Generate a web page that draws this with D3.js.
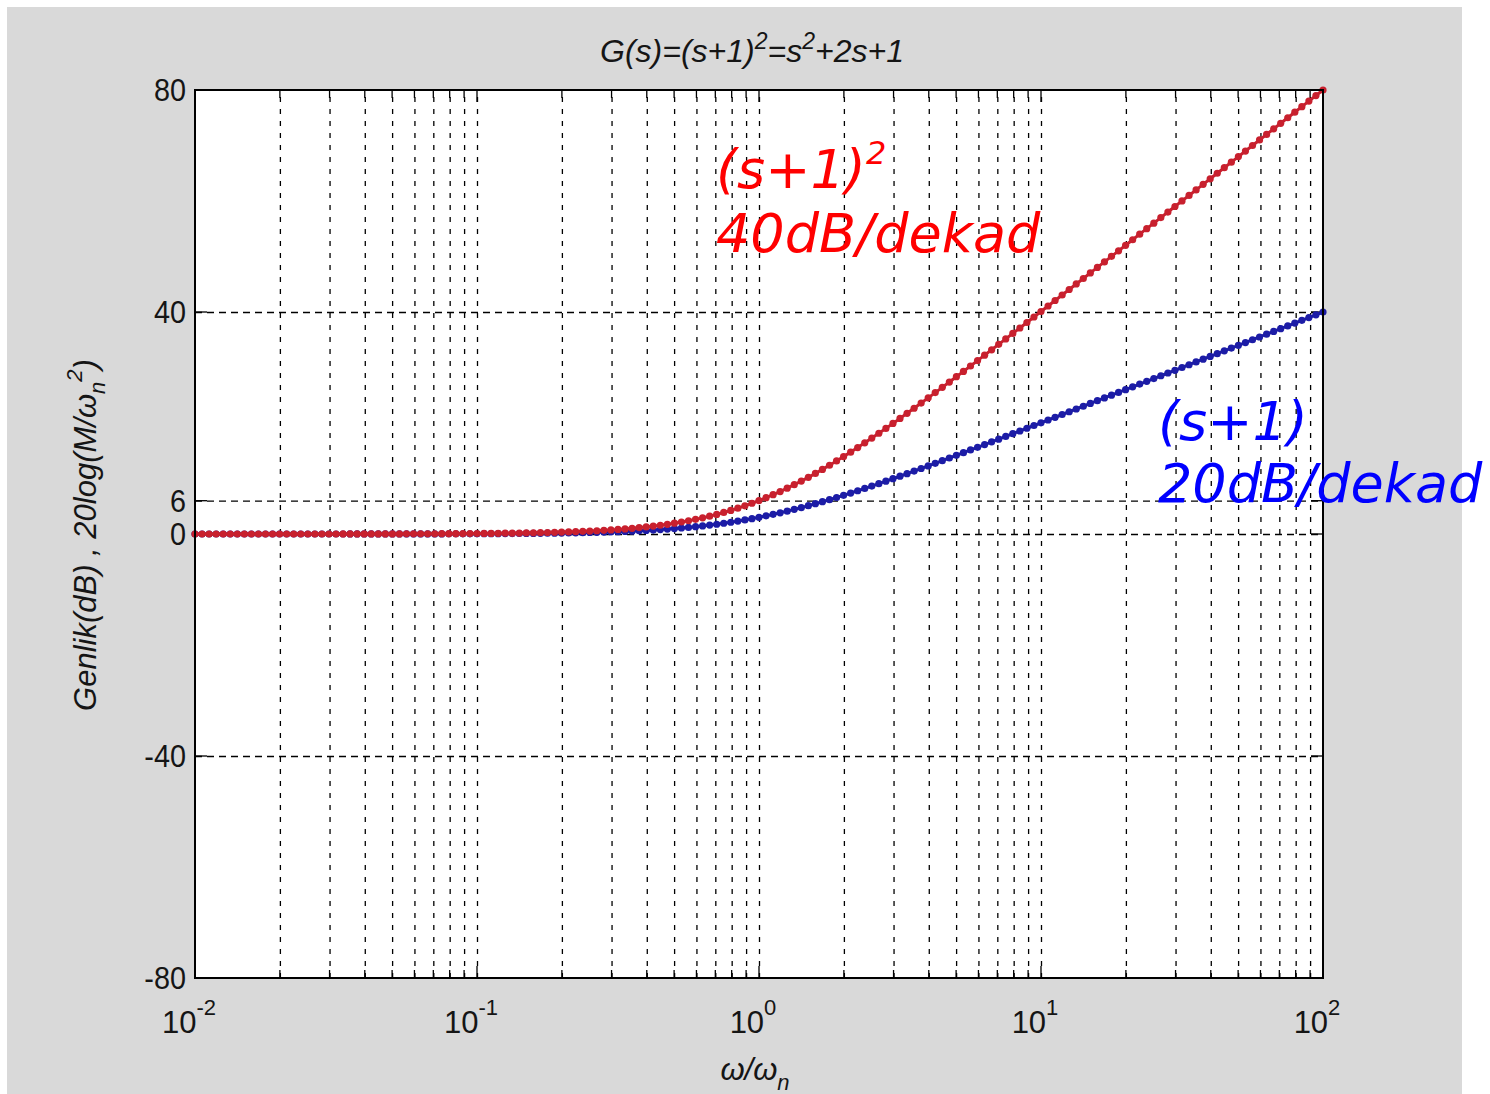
<!DOCTYPE html>
<html>
<head>
<meta charset="utf-8">
<script src="https://cdn.jsdelivr.net/npm/d3@7"></script>
<style>
  html, body { margin: 0; padding: 0; background: #ffffff; }
  svg { display: block; }
</style>
</head>
<body>
<script>
// ---------------- DATA ----------------
const xTickExps = [-2, -1, 0, 1, 2];
const yTickValues = [-80, -40, 0, 6, 40, 80];

const logOmega = [
 -2.000,-1.975,-1.950,-1.925,-1.900,-1.875,-1.850,-1.825,-1.800,-1.775,
 -1.750,-1.725,-1.700,-1.675,-1.650,-1.625,-1.600,-1.575,-1.550,-1.525,
 -1.500,-1.475,-1.450,-1.425,-1.400,-1.375,-1.350,-1.325,-1.300,-1.275,
 -1.250,-1.225,-1.200,-1.175,-1.150,-1.125,-1.100,-1.075,-1.050,-1.025,
 -1.000,-0.975,-0.950,-0.925,-0.900,-0.875,-0.850,-0.825,-0.800,-0.775,
 -0.750,-0.725,-0.700,-0.675,-0.650,-0.625,-0.600,-0.575,-0.550,-0.525,
 -0.500,-0.475,-0.450,-0.425,-0.400,-0.375,-0.350,-0.325,-0.300,-0.275,
 -0.250,-0.225,-0.200,-0.175,-0.150,-0.125,-0.100,-0.075,-0.050,-0.025,
  0.000, 0.025, 0.050, 0.075, 0.100, 0.125, 0.150, 0.175, 0.200, 0.225,
  0.250, 0.275, 0.300, 0.325, 0.350, 0.375, 0.400, 0.425, 0.450, 0.475,
  0.500, 0.525, 0.550, 0.575, 0.600, 0.625, 0.650, 0.675, 0.700, 0.725,
  0.750, 0.775, 0.800, 0.825, 0.850, 0.875, 0.900, 0.925, 0.950, 0.975,
  1.000, 1.025, 1.050, 1.075, 1.100, 1.125, 1.150, 1.175, 1.200, 1.225,
  1.250, 1.275, 1.300, 1.325, 1.350, 1.375, 1.400, 1.425, 1.450, 1.475,
  1.500, 1.525, 1.550, 1.575, 1.600, 1.625, 1.650, 1.675, 1.700, 1.725,
  1.750, 1.775, 1.800, 1.825, 1.850, 1.875, 1.900, 1.925, 1.950, 1.975,
  2.000
];

// (s+1)  -> blue
const magFirstOrder = [
 0,0,0,0,0,0,0,0,0,0,
 0,0,0,0,0,0,0,0,0,0,
 0,0,0.01,0.01,0.01,0.01,0.01,0.01,0.01,0.01,
 0.01,0.02,0.02,0.02,0.02,0.02,0.03,0.03,0.03,0.04,
 0.04,0.05,0.05,0.06,0.07,0.08,0.09,0.10,0.11,0.12,
 0.14,0.15,0.17,0.19,0.21,0.24,0.27,0.30,0.33,0.37,
 0.41,0.46,0.51,0.57,0.64,0.71,0.79,0.88,0.97,1.08,
 1.19,1.32,1.46,1.60,1.76,1.94,2.12,2.32,2.54,2.77,
 3.01,3.27,3.54,3.82,4.12,4.44,4.76,5.10,5.46,5.82,
 6.19,6.58,6.97,7.38,7.79,8.21,8.64,9.07,9.52,9.96,
 10.41,10.87,11.33,11.80,12.27,12.74,13.21,13.69,14.17,14.65,
 15.14,15.62,16.11,16.60,17.09,17.58,18.07,18.56,19.05,19.55,
 20.04,20.54,21.03,21.53,22.03,22.52,23.02,23.52,24.02,24.52,
 25.01,25.51,26.01,26.51,27.01,27.51,28.01,28.51,29.01,29.50,
 30.00,30.50,31.00,31.50,32.00,32.50,33.00,33.50,34.00,34.50,
 35.00,35.50,36.00,36.50,37.00,37.50,38.00,38.50,39.00,39.50,
 40.00
];

// (s+1)^2 -> red
const magSecondOrder = [
 0,0,0,0,0,0,0,0,0,0,
 0,0,0,0,0,0,0,0,0,0,
 0,0.01,0.01,0.01,0.01,0.02,0.02,0.02,0.02,0.02,
 0.03,0.03,0.03,0.04,0.04,0.05,0.05,0.06,0.07,0.08,
 0.09,0.10,0.11,0.12,0.14,0.15,0.17,0.19,0.22,0.24,
 0.27,0.30,0.34,0.38,0.42,0.48,0.53,0.59,0.66,0.74,
 0.83,0.92,1.03,1.15,1.28,1.42,1.58,1.75,1.95,2.16,
 2.39,2.64,2.91,3.21,3.53,3.88,4.25,4.65,5.08,5.54,
 6.02,6.54,7.08,7.65,8.25,8.88,9.53,10.21,10.91,11.64,
 12.39,13.16,13.95,14.75,15.58,16.42,17.28,18.15,19.03,19.92,
 20.83,21.74,22.66,23.59,24.53,25.48,26.42,27.38,28.34,29.30,
 30.27,31.24,32.22,33.19,34.17,35.15,36.14,37.12,38.11,39.10,
 40.09,41.08,42.07,43.06,44.05,45.05,46.04,47.04,48.03,49.03,
 50.03,51.02,52.02,53.02,54.02,55.02,56.01,57.01,58.01,59.01,
 60.01,61.00,62.00,63.00,64.00,65.00,66.00,67.00,68.00,69.00,
 70.00,71.00,72.00,73.00,74.00,75.00,76.00,77.00,78.00,79.00,
 80.00
];

// ---------------- DRAW ----------------
const W = 1490, H = 1094;
const svg = d3.select("body").append("svg").attr("width", W).attr("height", H);

svg.append("rect").attr("x", 0).attr("y", 0).attr("width", W).attr("height", H).attr("fill", "#ffffff");
svg.append("rect").attr("x", 7).attr("y", 7).attr("width", 1455).attr("height", H - 7).attr("fill", "#d9d9d9");

const L = 195, R = 1323, T = 90, B = 978;
const x = d3.scaleLog().domain([0.01, 100]).range([L, R]);
const y = d3.scaleLinear().domain([-80, 80]).range([B, T]);

svg.append("rect").attr("x", L).attr("y", T).attr("width", R - L).attr("height", B - T).attr("fill", "#ffffff");

const allXTicks = [];
for (let e = -2; e < 2; e++) {
  for (let m = 1; m <= 9; m++) allXTicks.push(m * Math.pow(10, e));
}
allXTicks.push(100);

const gGrid = svg.append("g");
gGrid.append("g")
  .attr("transform", `translate(0,${B})`)
  .call(d3.axisBottom(x).tickValues(allXTicks.filter(v => v > 0.0100001 && v < 99.999)).tickSize(-(B - T)).tickFormat(""))
  .call(g => g.select(".domain").remove())
  .call(g => g.selectAll("line").attr("stroke", "#000").attr("stroke-width", 1.3).attr("stroke-dasharray", "5,7"));

gGrid.append("g")
  .attr("transform", `translate(${L},0)`)
  .call(d3.axisLeft(y).tickValues(yTickValues.filter(v => v > -80 && v < 80)).tickSize(-(R - L)).tickFormat(""))
  .call(g => g.select(".domain").remove())
  .call(g => g.selectAll("line").attr("stroke", "#000").attr("stroke-width", 1.3).attr("stroke-dasharray", "7,5"));

const gTicks = svg.append("g").attr("stroke", "#000").attr("stroke-width", 1.3);
allXTicks.forEach(v => {
  const len = (Math.abs(Math.log10(v) - Math.round(Math.log10(v))) < 1e-9) ? 12 : 8;
  gTicks.append("line").attr("x1", x(v)).attr("x2", x(v)).attr("y1", B).attr("y2", B - len);
  gTicks.append("line").attr("x1", x(v)).attr("x2", x(v)).attr("y1", T).attr("y2", T + len);
});
yTickValues.forEach(v => {
  gTicks.append("line").attr("x1", L).attr("x2", L + 12).attr("y1", y(v)).attr("y2", y(v));
  gTicks.append("line").attr("x1", R).attr("x2", R - 12).attr("y1", y(v)).attr("y2", y(v));
});

// series
const omega = logOmega.map(e => Math.pow(10, e));
const series = [
  { values: magFirstOrder, color: "#1c1ca6" },
  { values: magSecondOrder, color: "#c8202e" }
];
const line = d3.line().x(d => x(d[0])).y(d => y(d[1]));
series.forEach(s => {
  const pts = omega.map((w, i) => [w, s.values[i]]);
  svg.append("path").datum(pts).attr("d", line).attr("fill", "none")
    .attr("stroke", s.color).attr("stroke-width", 3);
  svg.append("g").selectAll("circle").data(pts).enter().append("circle")
    .attr("cx", d => x(d[0])).attr("cy", d => y(d[1])).attr("r", 3.6)
    .attr("fill", s.color);
});

svg.append("rect").attr("x", L).attr("y", T).attr("width", R - L).attr("height", B - T)
  .attr("fill", "none").attr("stroke", "#000").attr("stroke-width", 2);

const font = "'Liberation Sans', Arial, sans-serif";
const txtColor = "#151515";

// y tick labels
svg.append("g").selectAll("text").data(yTickValues).enter().append("text")
  .attr("x", L - 9).attr("y", d => y(d) + 11)
  .attr("text-anchor", "end").attr("font-family", font).attr("font-size", 32)
  .attr("fill", txtColor).attr("transform", d => `translate(${(L - 9) * 0.1},0) scale(0.9,1)`)
  .text(d => d);

// x tick labels 10^e
xTickExps.forEach(e => {
  const cx = x(Math.pow(10, e));
  const t = svg.append("text").attr("x", cx - 6).attr("y", 1033)
    .attr("text-anchor", "middle").attr("font-family", font).attr("font-size", 31).attr("fill", txtColor);
  t.append("tspan").text("10");
  t.append("tspan").attr("dy", -18).attr("font-size", 22).text(String(e));
});

// title
const tt = svg.append("text").attr("x", 752).attr("y", 62).attr("text-anchor", "middle")
  .attr("font-family", font).attr("font-size", 32).attr("fill", txtColor).attr("font-style", "italic");
tt.append("tspan").text("G(s)=(s+1)");
tt.append("tspan").attr("dy", -13).attr("font-size", 23).text("2");
tt.append("tspan").attr("dy", 13).text("=s");
tt.append("tspan").attr("dy", -13).attr("font-size", 23).text("2");
tt.append("tspan").attr("dy", 13).text("+2s+1");

// x label
const xl = svg.append("text").attr("x", 755).attr("y", 1080).attr("text-anchor", "middle")
  .attr("font-family", font).attr("font-size", 31).attr("fill", txtColor).attr("font-style", "italic");
xl.append("tspan").text("ω/ω");
xl.append("tspan").attr("dy", 10).attr("font-size", 22).text("n");

// y label
const yl = svg.append("text").attr("transform", "translate(96,535) rotate(-90)")
  .attr("text-anchor", "middle").attr("font-family", font).attr("font-size", 31)
  .attr("fill", txtColor).attr("font-style", "italic");
yl.append("tspan").text("Genlik(dB) ,  20log(M/ω");
yl.append("tspan").attr("dy", 9).attr("font-size", 22).text("n");
yl.append("tspan").attr("dy", -23).attr("font-size", 22).text("2");
yl.append("tspan").attr("dy", 14).text(")");

// annotations
const annFont = "'DejaVu Sans', Verdana, sans-serif";
function annot(x0, y0, color, main, sup) {
  const t = svg.append("text").attr("x", x0).attr("y", y0).attr("font-family", annFont)
    .attr("font-size", 54).attr("font-style", "italic").attr("fill", color);
  t.append("tspan").text(main);
  if (sup) t.append("tspan").attr("dy", -24).attr("font-size", 32).text(sup);
}
annot(716, 188, "#ff0000", "(s+1)", "2");
annot(716, 252, "#ff0000", "40dB/dekad");
annot(1158, 440, "#0000ff", "(s+1)");
annot(1158, 502, "#0000ff", "20dB/dekad");
</script>
</body>
</html>
